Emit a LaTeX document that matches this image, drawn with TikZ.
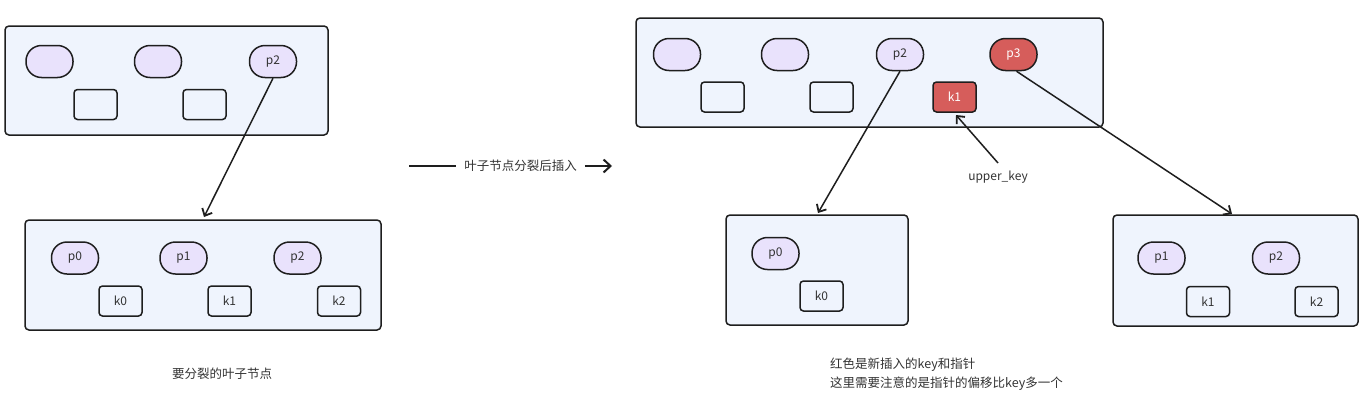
\documentclass[tikz,border=0pt]{standalone}
\usepackage{fontspec}
\setmainfont{Noto Sans CJK SC}
\usetikzlibrary{arrows.meta}
\definecolor{boxfill}{HTML}{EFF4FD}
\definecolor{pillfill}{HTML}{E9E2FC}
\definecolor{redfill}{HTML}{D65D5B}
\definecolor{edge}{HTML}{1E1E1E}
\definecolor{txt}{HTML}{333333}
\tikzset{
  container/.style={draw=edge, line width=1.5pt, fill=boxfill, rounded corners=4pt, inner sep=0pt},
  pill/.style={draw=edge, line width=1.5pt, fill=pillfill, rounded corners=15.5pt, minimum width=47pt, minimum height=32pt, inner sep=0pt, text=txt, font=\fontsize{12}{14}\selectfont},
  keybox/.style={draw=edge, line width=1.5pt, fill=boxfill, rounded corners=3.5pt, minimum width=43pt, minimum height=30pt, inner sep=0pt, text=txt, font=\fontsize{12}{14}\selectfont},
  redpill/.style={pill, fill=redfill, text=white},
  redkey/.style={keybox, fill=redfill, text=white},
  conn/.style={draw=edge, line width=1.5pt, -{Straight Barb[length=6pt,width=11pt,line width=1.8pt]}},
  label/.style={text=txt, font=\fontsize{12.5}{19}\selectfont, inner sep=0pt}
}
\begin{document}
\begin{tikzpicture}[x=1pt, y=-1pt]
\useasboundingbox (0,0) rectangle (1370,402);
% left top
\node[container, minimum width=323pt, minimum height=109pt] (ltc) at (166.5,80.5) {};
\node[pill] (la1) at (49.5,61.5) {};
\node[pill] (la2) at (158,61.5) {};
\node[pill] (lp2) at (273,61.5) {p2};
\node[keybox] (lk1) at (95.5,104.5) {};
\node[keybox] (lk2) at (204.5,104.5) {};
% left bottom
\node[container, minimum width=356pt, minimum height=110pt] (lbc) at (203,275) {};
\node[pill] (bp0) at (75,258) {p0};
\node[pill] (bp1) at (183.5,258) {p1};
\node[pill] (bp2) at (297.5,258) {p2};
\node[keybox] (bk0) at (120.5,301) {k0};
\node[keybox] (bk1) at (229.5,301) {k1};
\node[keybox] (bk2) at (339,301) {k2};
\coordinate (lend) at (204,217);
\draw[conn] (lp2.south) -- (lend);
\node[label] (lcap) at (222,374) {要分裂的叶子节点};
% middle
\node[label, inner xsep=8pt] (mid) at (520.5,166) {叶子节点分裂后插入};
\coordinate (ms) at (409,166);
\coordinate (me) at (612,166);
\draw[draw=edge, line width=1.5pt] (ms) -- (mid.west);
\draw[conn, line width=2pt, -{Straight Barb[length=7pt,width=13pt,line width=2pt]}] (mid.east) -- (me);
% right top
\node[container, minimum width=467pt, minimum height=109pt] (rtc) at (869.5,72.5) {};
\node[pill] (ra1) at (677,54.5) {};
\node[pill] (ra2) at (785,54.5) {};
\node[pill] (rp2) at (900,54.5) {p2};
\node[redpill] (rp3) at (1013.5,54.5) {p3};
\node[keybox] (rk1) at (722.5,97) {};
\node[keybox] (rk2) at (831.5,97) {};
\node[redkey] (rk3) at (954.5,97) {k1};
\node[label, font=\fontsize{12}{14}\selectfont] (uk) at (998,177) {upper\_key};
\coordinate (ukt) at (998,163);
\coordinate (uktip) at (956,115);
\draw[conn] (ukt) -- (uktip);
% right bottom mid
\node[container, minimum width=182pt, minimum height=110pt] (mbc) at (817,270) {};
\node[pill] (mp0) at (775.5,253.5) {p0};
\node[keybox] (mk0) at (821.5,296) {k0};
% right bottom right
\node[container, minimum width=245pt, minimum height=111pt] (rbc) at (1235.5,270.5) {};
\node[pill] (np1) at (1161.5,258) {p1};
\node[pill] (np2) at (1276,258) {p2};
\node[keybox] (nk1) at (1208,301.5) {k1};
\node[keybox] (nk2) at (1316.5,301.5) {k2};
\coordinate (mend) at (818,213);
\coordinate (nend) at (1232,214);
\draw[conn] (rp2.south) -- (mend);
\draw[conn] ([xshift=3pt]rp3.south) -- (nend);
% notes
\node[label, align=left, anchor=north west] (note) at (830,358) {红色是新插入的key和指针\\这里需要注意的是指针的偏移比key多一个};
\end{tikzpicture}
\end{document}
